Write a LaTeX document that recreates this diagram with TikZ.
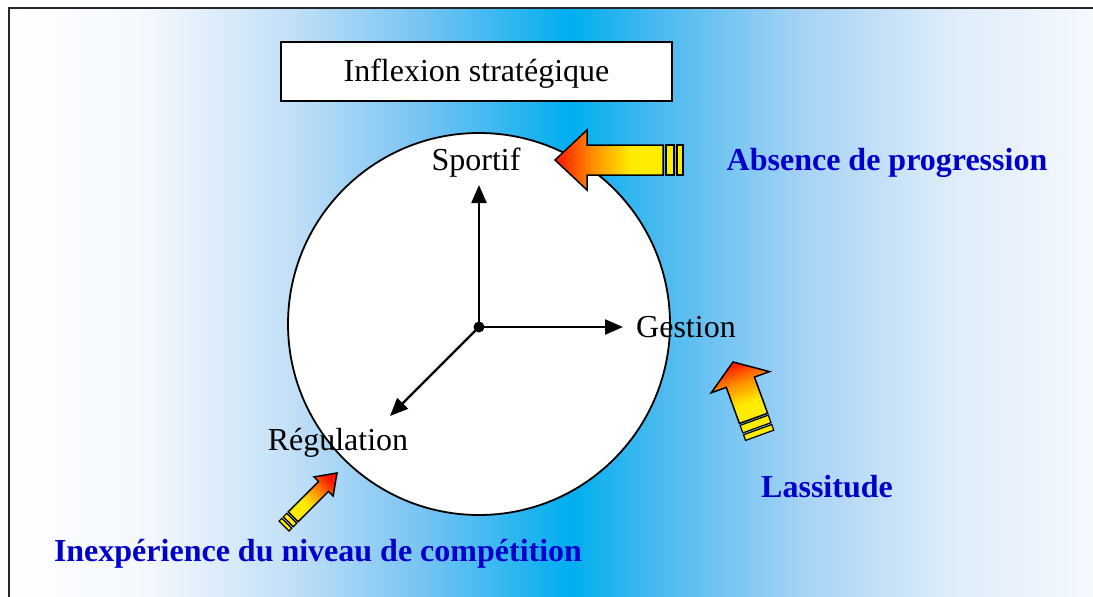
\documentclass[tikz,border=0pt]{standalone}
\usepackage{fontspec}
\setmainfont{Liberation Serif}
\usetikzlibrary{arrows.meta}
\definecolor{bgA}{RGB}{243,248,254}
\definecolor{bgB}{RGB}{195,224,247}
\definecolor{bgC}{RGB}{120,196,242}
\definecolor{bgD}{RGB}{0,174,239}
\definecolor{bgE}{RGB}{75,186,240}
\definecolor{bgF}{RGB}{165,210,245}
\definecolor{bgG}{RGB}{222,236,250}
\definecolor{bgH}{RGB}{245,249,254}
\definecolor{lblue}{RGB}{0,0,204}
\definecolor{ayellow}{RGB}{255,236,0}
\definecolor{aorange}{RGB}{255,140,0}
\definecolor{ared}{RGB}{255,20,0}
\pgfdeclarehorizontalshading{bgshade}{589pt}{color(0pt)=(white); color(141pt)=(bgA); color(281pt)=(bgB); color(411pt)=(bgC); color(561pt)=(bgD); color(651pt)=(bgE); color(791pt)=(bgF); color(941pt)=(bgG); color(1084pt)=(bgH)}
\pgfdeclareverticalshading{arrowshade}{100bp}{color(0bp)=(ayellow); color(40bp)=(ayellow); color(58bp)=(aorange); color(75bp)=(ared); color(100bp)=(ared)}
\begin{document}
\begin{tikzpicture}[x=1pt,y=-1pt,
  lbl/.style={font=\fontsize{32}{38}\selectfont, inner sep=0pt},
  bluelbl/.style={font=\fontsize{32}{38}\selectfont\bfseries, text=lblue, inner sep=0pt},
  axisarrow/.style={line width=2.3pt, -{Triangle[length=18pt,width=15pt]}},
  barrow/.style={draw=black, line width=1.5pt, shade, shading=arrowshade, shading angle=#1},
  stripe/.style={draw=black, line width=1.2pt, fill=ayellow}]
\useasboundingbox (0,0) rectangle (1093,597);
% background
\node[inner sep=0pt, outer sep=0pt, anchor=north west] (bg) at (9,8) {\pgfuseshading{bgshade}};
\draw[line width=2.5pt, black!85] (9,597) -- (9,8) -- (1093,8);
% circle
\node[draw, circle, line width=1.8pt, fill=white, minimum size=382pt, inner sep=0pt] (disk) at (479,324) {};
% title box
\node[draw, line width=2pt, fill=white, minimum width=391pt, minimum height=59pt] (title) at (476.5,71.5) {};
\node[lbl] (titletext) at (476.5,73.5) {Inflexion stratégique};
% axes
\coordinate (o) at (479,327);
\coordinate (up) at (479,185);
\coordinate (rt) at (623,327);
\coordinate (dl) at (390,416);
\draw[axisarrow] (o) -- (up);
\draw[axisarrow] (o) -- (rt);
\draw[axisarrow] (o) -- (dl);
\fill (o) circle (5.5);
% labels
\node[lbl] (sportif) at (476,163) {Sportif};
\node[lbl] (gestion) at (686,327) {Gestion};
\node[lbl] (regul) at (338,443) {Régulation};
\node[bluelbl] (absence) at (887,163) {Absence de progression};
\node[bluelbl] (lass) at (827,487) {Lassitude};
\node[bluelbl] (inexp) at (318,554) {Inexpérience du niveau de compétition};
% block arrow: absence de progression
\begin{scope}[shift={(555,160)}, rotate=180]
  \path[barrow=90] (0,0) -- (-32,-30) -- (-32,-15) -- (-108,-15) -- (-108,15) -- (-32,15) -- (-32,30) -- cycle;
  \draw[stripe] (-111,-15) rectangle (-119,15);
  \draw[stripe] (-122,-15) rectangle (-128,15);
\end{scope}
% block arrow: lassitude
\begin{scope}[shift={(733,362)}, rotate=110]
  \path[barrow=20] (0,0) -- (-21.5,-31) -- (-21.5,-15) -- (-60,-15) -- (-60,15) -- (-21.5,15) -- (-21.5,31) -- cycle;
  \draw[stripe] (-62,-15) rectangle (-70,15);
  \draw[stripe] (-72,-15) rectangle (-78,15);
\end{scope}
% block arrow: inexperience
\begin{scope}[shift={(337,473)}, rotate=45]
  \path[barrow=-45] (0,0) -- (-19,-13.5) -- (-19,-7) -- (-62,-7) -- (-62,7) -- (-19,7) -- (-19,13.5) -- cycle;
  \draw[stripe] (-64,-7) rectangle (-69,7);
  \draw[stripe] (-71,-7) rectangle (-75,7);
\end{scope}
\end{tikzpicture}
\end{document}
